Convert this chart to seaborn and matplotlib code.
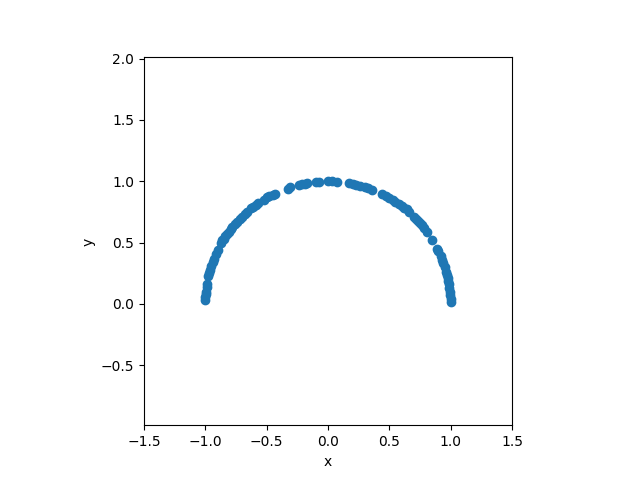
import matplotlib
matplotlib.use("Agg")
import matplotlib.pyplot as plt
import seaborn as sns
import pandas as pd

# puntos (semicirculo superior)
x_vals = [-1.00, -1.00, -0.997, -0.995, -0.99, -0.985, -0.975, -0.97, -0.96, -0.95,
          -0.94, -0.93, -0.91, -0.90, -0.87, -0.86, -0.85, -0.84, -0.82, -0.81,
          -0.79, -0.78, -0.76, -0.74, -0.72, -0.70, -0.68, -0.66, -0.63, -0.61,
          -0.59, -0.57, -0.52, -0.50, -0.48, -0.45, -0.43, -0.33, -0.31, -0.24,
          -0.21, -0.19, -0.17, -0.10, -0.07, 0.00, 0.03, 0.07,
          0.17, 0.20, 0.23, 0.26, 0.30, 0.33, 0.36, 0.44, 0.47, 0.50,
          0.53, 0.55, 0.58, 0.60, 0.62, 0.64, 0.66, 0.70, 0.72, 0.73,
          0.75, 0.77, 0.78, 0.81, 0.85, 0.89, 0.90, 0.92, 0.93, 0.94,
          0.95, 0.965, 0.97, 0.975, 0.98, 0.985, 0.99, 0.995, 0.997, 1.00, 1.00]
y_vals = [0.03, 0.06, 0.08, 0.10, 0.14, 0.16, 0.23, 0.25, 0.28, 0.31,
          0.34, 0.37, 0.41, 0.44, 0.50, 0.52, 0.53, 0.55, 0.57, 0.59,
          0.61, 0.63, 0.65, 0.67, 0.69, 0.71, 0.73, 0.75, 0.78, 0.79,
          0.81, 0.82, 0.85, 0.87, 0.88, 0.89, 0.90, 0.94, 0.95, 0.97,
          0.98, 0.98, 0.99, 0.995, 0.998, 1.00, 1.00, 0.998,
          0.985, 0.98, 0.97, 0.965, 0.955, 0.945, 0.93, 0.90, 0.88, 0.865,
          0.85, 0.835, 0.815, 0.80, 0.785, 0.77, 0.75, 0.71, 0.69, 0.68,
          0.66, 0.64, 0.62, 0.59, 0.52, 0.45, 0.43, 0.39, 0.36, 0.33,
          0.30, 0.26, 0.24, 0.21, 0.19, 0.16, 0.13, 0.10, 0.07, 0.04, 0.02]

df = pd.DataFrame({"x": x_vals, "y": y_vals})

fig, ax = plt.subplots(figsize=(6.4, 4.78), dpi=100)
sns.scatterplot(data=df, x="x", y="y", ax=ax, s=36, color="#1f77b4",
                edgecolor="#1f77b4", linewidth=1.0)
ax.set_aspect("equal")
ax.set_xlim(-1.5, 1.5)
ax.set_ylim(-0.99, 2.01)
ax.set_xlabel("x")
ax.set_ylabel("y")
plt.savefig("out.png")
